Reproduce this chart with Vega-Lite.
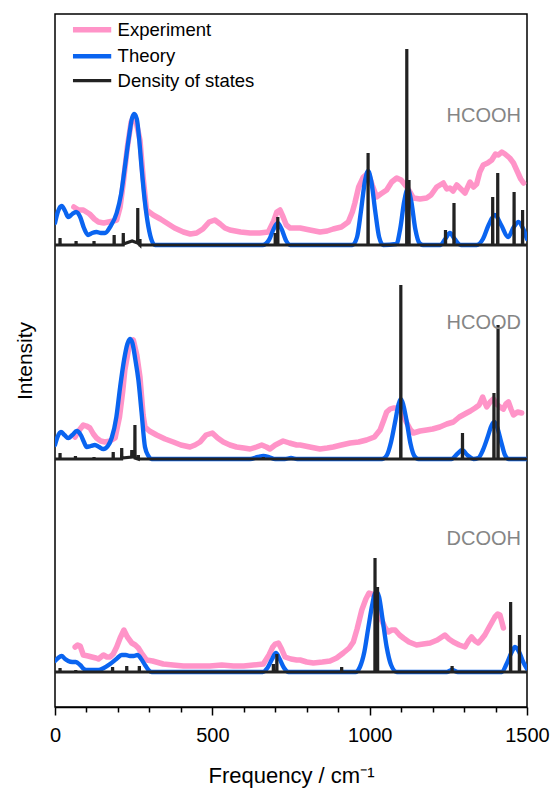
{
  "$schema": "https://vega.github.io/schema/vega-lite/v6.json",
  "autosize": {"type": "none"},
  "padding": {"left": 55, "top": 14, "right": 26, "bottom": 82},
  "width": 472,
  "height": 693,
  "config": {
    "font": "Liberation Sans",
    "view": {"stroke": "#000000", "strokeWidth": 1.5},
    "axis": {"labelFont": "Liberation Sans", "titleFont": "Liberation Sans", "titleFontWeight": "normal", "labelColor": "#000000", "titleColor": "#000000"}
  },
  "datasets": {
    "spec": [
      {"kind": "Experiment", "s": "HCOOH", "x": 60, "y": 500}, {"kind": "Experiment", "s": "HCOOH", "x": 75, "y": 497}, {"kind": "Experiment", "s": "HCOOH", "x": 90, "y": 497}, {"kind": "Experiment", "s": "HCOOH", "x": 110, "y": 493}, {"kind": "Experiment", "s": "HCOOH", "x": 125, "y": 488}, {"kind": "Experiment", "s": "HCOOH", "x": 138, "y": 485}, {"kind": "Experiment", "s": "HCOOH", "x": 155, "y": 484}, {"kind": "Experiment", "s": "HCOOH", "x": 170, "y": 485}, {"kind": "Experiment", "s": "HCOOH", "x": 185, "y": 486}, {"kind": "Experiment", "s": "HCOOH", "x": 196, "y": 487}, {"kind": "Experiment", "s": "HCOOH", "x": 207, "y": 500}, {"kind": "Experiment", "s": "HCOOH", "x": 217, "y": 524}, {"kind": "Experiment", "s": "HCOOH", "x": 230, "y": 560}, {"kind": "Experiment", "s": "HCOOH", "x": 242, "y": 585}, {"kind": "Experiment", "s": "HCOOH", "x": 249, "y": 590}, {"kind": "Experiment", "s": "HCOOH", "x": 258, "y": 585}, {"kind": "Experiment", "s": "HCOOH", "x": 270, "y": 567}, {"kind": "Experiment", "s": "HCOOH", "x": 280, "y": 530}, {"kind": "Experiment", "s": "HCOOH", "x": 291, "y": 497}, {"kind": "Experiment", "s": "HCOOH", "x": 312, "y": 492}, {"kind": "Experiment", "s": "HCOOH", "x": 335, "y": 488}, {"kind": "Experiment", "s": "HCOOH", "x": 355, "y": 484}, {"kind": "Experiment", "s": "HCOOH", "x": 380, "y": 479}, {"kind": "Experiment", "s": "HCOOH", "x": 408, "y": 475}, {"kind": "Experiment", "s": "HCOOH", "x": 430, "y": 473}, {"kind": "Experiment", "s": "HCOOH", "x": 450, "y": 474}, {"kind": "Experiment", "s": "HCOOH", "x": 470, "y": 478}, {"kind": "Experiment", "s": "HCOOH", "x": 490, "y": 485}, {"kind": "Experiment", "s": "HCOOH", "x": 508, "y": 487}, {"kind": "Experiment", "s": "HCOOH", "x": 525, "y": 483}, {"kind": "Experiment", "s": "HCOOH", "x": 540, "y": 479}, {"kind": "Experiment", "s": "HCOOH", "x": 556, "y": 477}, {"kind": "Experiment", "s": "HCOOH", "x": 590, "y": 475}, {"kind": "Experiment", "s": "HCOOH", "x": 620, "y": 474}, {"kind": "Experiment", "s": "HCOOH", "x": 650, "y": 474}, {"kind": "Experiment", "s": "HCOOH", "x": 678, "y": 475}, {"kind": "Experiment", "s": "HCOOH", "x": 695, "y": 486}, {"kind": "Experiment", "s": "HCOOH", "x": 705, "y": 495}, {"kind": "Experiment", "s": "HCOOH", "x": 715, "y": 497}, {"kind": "Experiment", "s": "HCOOH", "x": 725, "y": 490}, {"kind": "Experiment", "s": "HCOOH", "x": 735, "y": 482}, {"kind": "Experiment", "s": "HCOOH", "x": 747, "y": 479}, {"kind": "Experiment", "s": "HCOOH", "x": 779, "y": 479}, {"kind": "Experiment", "s": "HCOOH", "x": 810, "y": 477}, {"kind": "Experiment", "s": "HCOOH", "x": 842, "y": 475}, {"kind": "Experiment", "s": "HCOOH", "x": 865, "y": 476}, {"kind": "Experiment", "s": "HCOOH", "x": 884, "y": 478}, {"kind": "Experiment", "s": "HCOOH", "x": 910, "y": 480}, {"kind": "Experiment", "s": "HCOOH", "x": 932, "y": 485}, {"kind": "Experiment", "s": "HCOOH", "x": 945, "y": 495}, {"kind": "Experiment", "s": "HCOOH", "x": 953, "y": 504}, {"kind": "Experiment", "s": "HCOOH", "x": 965, "y": 520}, {"kind": "Experiment", "s": "HCOOH", "x": 980, "y": 530}, {"kind": "Experiment", "s": "HCOOH", "x": 995, "y": 534}, {"kind": "Experiment", "s": "HCOOH", "x": 1008, "y": 522}, {"kind": "Experiment", "s": "HCOOH", "x": 1022, "y": 510}, {"kind": "Experiment", "s": "HCOOH", "x": 1035, "y": 513}, {"kind": "Experiment", "s": "HCOOH", "x": 1054, "y": 517}, {"kind": "Experiment", "s": "HCOOH", "x": 1070, "y": 525}, {"kind": "Experiment", "s": "HCOOH", "x": 1086, "y": 529}, {"kind": "Experiment", "s": "HCOOH", "x": 1100, "y": 527}, {"kind": "Experiment", "s": "HCOOH", "x": 1118, "y": 520}, {"kind": "Experiment", "s": "HCOOH", "x": 1130, "y": 514}, {"kind": "Experiment", "s": "HCOOH", "x": 1139, "y": 509}, {"kind": "Experiment", "s": "HCOOH", "x": 1160, "y": 508}, {"kind": "Experiment", "s": "HCOOH", "x": 1181, "y": 509}, {"kind": "Experiment", "s": "HCOOH", "x": 1195, "y": 512}, {"kind": "Experiment", "s": "HCOOH", "x": 1213, "y": 520}, {"kind": "Experiment", "s": "HCOOH", "x": 1234, "y": 524}, {"kind": "Experiment", "s": "HCOOH", "x": 1245, "y": 518}, {"kind": "Experiment", "s": "HCOOH", "x": 1255, "y": 519}, {"kind": "Experiment", "s": "HCOOH", "x": 1265, "y": 516}, {"kind": "Experiment", "s": "HCOOH", "x": 1277, "y": 522}, {"kind": "Experiment", "s": "HCOOH", "x": 1290, "y": 518}, {"kind": "Experiment", "s": "HCOOH", "x": 1303, "y": 514}, {"kind": "Experiment", "s": "HCOOH", "x": 1319, "y": 525}, {"kind": "Experiment", "s": "HCOOH", "x": 1330, "y": 520}, {"kind": "Experiment", "s": "HCOOH", "x": 1340, "y": 523}, {"kind": "Experiment", "s": "HCOOH", "x": 1350, "y": 535}, {"kind": "Experiment", "s": "HCOOH", "x": 1361, "y": 542}, {"kind": "Experiment", "s": "HCOOH", "x": 1375, "y": 544}, {"kind": "Experiment", "s": "HCOOH", "x": 1388, "y": 547}, {"kind": "Experiment", "s": "HCOOH", "x": 1400, "y": 553}, {"kind": "Experiment", "s": "HCOOH", "x": 1409, "y": 552}, {"kind": "Experiment", "s": "HCOOH", "x": 1420, "y": 555}, {"kind": "Experiment", "s": "HCOOH", "x": 1430, "y": 553}, {"kind": "Experiment", "s": "HCOOH", "x": 1445, "y": 549}, {"kind": "Experiment", "s": "HCOOH", "x": 1457, "y": 544}, {"kind": "Experiment", "s": "HCOOH", "x": 1470, "y": 535}, {"kind": "Experiment", "s": "HCOOH", "x": 1480, "y": 528}, {"kind": "Experiment", "s": "HCOOH", "x": 1489, "y": 524},

      {"kind": "Theory", "s": "HCOOH", "x": 0, "y": 484}, {"kind": "Theory", "s": "HCOOH", "x": 10, "y": 496}, {"kind": "Theory", "s": "HCOOH", "x": 21, "y": 501}, {"kind": "Theory", "s": "HCOOH", "x": 32, "y": 496}, {"kind": "Theory", "s": "HCOOH", "x": 42, "y": 490}, {"kind": "Theory", "s": "HCOOH", "x": 55, "y": 493}, {"kind": "Theory", "s": "HCOOH", "x": 67, "y": 495}, {"kind": "Theory", "s": "HCOOH", "x": 80, "y": 490}, {"kind": "Theory", "s": "HCOOH", "x": 92, "y": 479}, {"kind": "Theory", "s": "HCOOH", "x": 105, "y": 472}, {"kind": "Theory", "s": "HCOOH", "x": 118, "y": 474}, {"kind": "Theory", "s": "HCOOH", "x": 132, "y": 475}, {"kind": "Theory", "s": "HCOOH", "x": 146, "y": 474}, {"kind": "Theory", "s": "HCOOH", "x": 159, "y": 474}, {"kind": "Theory", "s": "HCOOH", "x": 175, "y": 480}, {"kind": "Theory", "s": "HCOOH", "x": 196, "y": 494}, {"kind": "Theory", "s": "HCOOH", "x": 210, "y": 513}, {"kind": "Theory", "s": "HCOOH", "x": 222, "y": 540}, {"kind": "Theory", "s": "HCOOH", "x": 235, "y": 570}, {"kind": "Theory", "s": "HCOOH", "x": 245, "y": 589}, {"kind": "Theory", "s": "HCOOH", "x": 252, "y": 593}, {"kind": "Theory", "s": "HCOOH", "x": 260, "y": 588}, {"kind": "Theory", "s": "HCOOH", "x": 268, "y": 566}, {"kind": "Theory", "s": "HCOOH", "x": 275, "y": 540}, {"kind": "Theory", "s": "HCOOH", "x": 285, "y": 507}, {"kind": "Theory", "s": "HCOOH", "x": 297, "y": 480}, {"kind": "Theory", "s": "HCOOH", "x": 308, "y": 466}, {"kind": "Theory", "s": "HCOOH", "x": 318, "y": 462}, {"kind": "Theory", "s": "HCOOH", "x": 660, "y": 462}, {"kind": "Theory", "s": "HCOOH", "x": 680, "y": 467}, {"kind": "Theory", "s": "HCOOH", "x": 695, "y": 478}, {"kind": "Theory", "s": "HCOOH", "x": 708, "y": 484}, {"kind": "Theory", "s": "HCOOH", "x": 720, "y": 478}, {"kind": "Theory", "s": "HCOOH", "x": 735, "y": 466}, {"kind": "Theory", "s": "HCOOH", "x": 747, "y": 462}, {"kind": "Theory", "s": "HCOOH", "x": 945, "y": 462}, {"kind": "Theory", "s": "HCOOH", "x": 960, "y": 470}, {"kind": "Theory", "s": "HCOOH", "x": 972, "y": 495}, {"kind": "Theory", "s": "HCOOH", "x": 985, "y": 526}, {"kind": "Theory", "s": "HCOOH", "x": 995, "y": 536}, {"kind": "Theory", "s": "HCOOH", "x": 1005, "y": 526}, {"kind": "Theory", "s": "HCOOH", "x": 1018, "y": 495}, {"kind": "Theory", "s": "HCOOH", "x": 1030, "y": 470}, {"kind": "Theory", "s": "HCOOH", "x": 1043, "y": 462}, {"kind": "Theory", "s": "HCOOH", "x": 1085, "y": 463}, {"kind": "Theory", "s": "HCOOH", "x": 1097, "y": 478}, {"kind": "Theory", "s": "HCOOH", "x": 1110, "y": 506}, {"kind": "Theory", "s": "HCOOH", "x": 1121, "y": 518}, {"kind": "Theory", "s": "HCOOH", "x": 1132, "y": 506}, {"kind": "Theory", "s": "HCOOH", "x": 1145, "y": 478}, {"kind": "Theory", "s": "HCOOH", "x": 1158, "y": 464}, {"kind": "Theory", "s": "HCOOH", "x": 1170, "y": 462}, {"kind": "Theory", "s": "HCOOH", "x": 1225, "y": 462}, {"kind": "Theory", "s": "HCOOH", "x": 1240, "y": 468}, {"kind": "Theory", "s": "HCOOH", "x": 1255, "y": 474}, {"kind": "Theory", "s": "HCOOH", "x": 1270, "y": 468}, {"kind": "Theory", "s": "HCOOH", "x": 1290, "y": 462}, {"kind": "Theory", "s": "HCOOH", "x": 1340, "y": 462}, {"kind": "Theory", "s": "HCOOH", "x": 1360, "y": 468}, {"kind": "Theory", "s": "HCOOH", "x": 1378, "y": 482}, {"kind": "Theory", "s": "HCOOH", "x": 1398, "y": 492}, {"kind": "Theory", "s": "HCOOH", "x": 1418, "y": 482}, {"kind": "Theory", "s": "HCOOH", "x": 1440, "y": 470}, {"kind": "Theory", "s": "HCOOH", "x": 1458, "y": 480}, {"kind": "Theory", "s": "HCOOH", "x": 1473, "y": 485}, {"kind": "Theory", "s": "HCOOH", "x": 1488, "y": 478}, {"kind": "Theory", "s": "HCOOH", "x": 1500, "y": 468},

      {"kind": "Experiment", "s": "HCOOD", "x": 64, "y": 270}, {"kind": "Experiment", "s": "HCOOD", "x": 75, "y": 276}, {"kind": "Experiment", "s": "HCOOD", "x": 90, "y": 282}, {"kind": "Experiment", "s": "HCOOD", "x": 100, "y": 281}, {"kind": "Experiment", "s": "HCOOD", "x": 111, "y": 279}, {"kind": "Experiment", "s": "HCOOD", "x": 122, "y": 273}, {"kind": "Experiment", "s": "HCOOD", "x": 132, "y": 269}, {"kind": "Experiment", "s": "HCOOD", "x": 145, "y": 266}, {"kind": "Experiment", "s": "HCOOD", "x": 159, "y": 265}, {"kind": "Experiment", "s": "HCOOD", "x": 175, "y": 266}, {"kind": "Experiment", "s": "HCOOD", "x": 191, "y": 269}, {"kind": "Experiment", "s": "HCOOD", "x": 205, "y": 290}, {"kind": "Experiment", "s": "HCOOD", "x": 215, "y": 315}, {"kind": "Experiment", "s": "HCOOD", "x": 222, "y": 337}, {"kind": "Experiment", "s": "HCOOD", "x": 235, "y": 360}, {"kind": "Experiment", "s": "HCOOD", "x": 249, "y": 367}, {"kind": "Experiment", "s": "HCOOD", "x": 260, "y": 352}, {"kind": "Experiment", "s": "HCOOD", "x": 270, "y": 330}, {"kind": "Experiment", "s": "HCOOD", "x": 280, "y": 292}, {"kind": "Experiment", "s": "HCOOD", "x": 286, "y": 280}, {"kind": "Experiment", "s": "HCOOD", "x": 300, "y": 276}, {"kind": "Experiment", "s": "HCOOD", "x": 323, "y": 272}, {"kind": "Experiment", "s": "HCOOD", "x": 350, "y": 268}, {"kind": "Experiment", "s": "HCOOD", "x": 376, "y": 265}, {"kind": "Experiment", "s": "HCOOD", "x": 400, "y": 262}, {"kind": "Experiment", "s": "HCOOD", "x": 429, "y": 260}, {"kind": "Experiment", "s": "HCOOD", "x": 445, "y": 262}, {"kind": "Experiment", "s": "HCOOD", "x": 461, "y": 265}, {"kind": "Experiment", "s": "HCOOD", "x": 480, "y": 272}, {"kind": "Experiment", "s": "HCOOD", "x": 500, "y": 274}, {"kind": "Experiment", "s": "HCOOD", "x": 517, "y": 269}, {"kind": "Experiment", "s": "HCOOD", "x": 535, "y": 265}, {"kind": "Experiment", "s": "HCOOD", "x": 556, "y": 262}, {"kind": "Experiment", "s": "HCOOD", "x": 577, "y": 260}, {"kind": "Experiment", "s": "HCOOD", "x": 600, "y": 259}, {"kind": "Experiment", "s": "HCOOD", "x": 620, "y": 258}, {"kind": "Experiment", "s": "HCOOD", "x": 640, "y": 260}, {"kind": "Experiment", "s": "HCOOD", "x": 657, "y": 262}, {"kind": "Experiment", "s": "HCOOD", "x": 672, "y": 260}, {"kind": "Experiment", "s": "HCOOD", "x": 683, "y": 258}, {"kind": "Experiment", "s": "HCOOD", "x": 700, "y": 262}, {"kind": "Experiment", "s": "HCOOD", "x": 725, "y": 266}, {"kind": "Experiment", "s": "HCOOD", "x": 745, "y": 264}, {"kind": "Experiment", "s": "HCOOD", "x": 768, "y": 262}, {"kind": "Experiment", "s": "HCOOD", "x": 779, "y": 262}, {"kind": "Experiment", "s": "HCOOD", "x": 810, "y": 260}, {"kind": "Experiment", "s": "HCOOD", "x": 842, "y": 258}, {"kind": "Experiment", "s": "HCOOD", "x": 865, "y": 259}, {"kind": "Experiment", "s": "HCOOD", "x": 884, "y": 260}, {"kind": "Experiment", "s": "HCOOD", "x": 910, "y": 262}, {"kind": "Experiment", "s": "HCOOD", "x": 938, "y": 264}, {"kind": "Experiment", "s": "HCOOD", "x": 965, "y": 265}, {"kind": "Experiment", "s": "HCOOD", "x": 990, "y": 267}, {"kind": "Experiment", "s": "HCOOD", "x": 1015, "y": 270}, {"kind": "Experiment", "s": "HCOOD", "x": 1033, "y": 277}, {"kind": "Experiment", "s": "HCOOD", "x": 1045, "y": 287}, {"kind": "Experiment", "s": "HCOOD", "x": 1054, "y": 295}, {"kind": "Experiment", "s": "HCOOD", "x": 1065, "y": 298}, {"kind": "Experiment", "s": "HCOOD", "x": 1075, "y": 299}, {"kind": "Experiment", "s": "HCOOD", "x": 1086, "y": 299}, {"kind": "Experiment", "s": "HCOOD", "x": 1096, "y": 297}, {"kind": "Experiment", "s": "HCOOD", "x": 1108, "y": 291}, {"kind": "Experiment", "s": "HCOOD", "x": 1118, "y": 284}, {"kind": "Experiment", "s": "HCOOD", "x": 1130, "y": 277}, {"kind": "Experiment", "s": "HCOOD", "x": 1139, "y": 274}, {"kind": "Experiment", "s": "HCOOD", "x": 1160, "y": 276}, {"kind": "Experiment", "s": "HCOOD", "x": 1181, "y": 277}, {"kind": "Experiment", "s": "HCOOD", "x": 1200, "y": 278}, {"kind": "Experiment", "s": "HCOOD", "x": 1223, "y": 280}, {"kind": "Experiment", "s": "HCOOD", "x": 1245, "y": 283}, {"kind": "Experiment", "s": "HCOOD", "x": 1266, "y": 285}, {"kind": "Experiment", "s": "HCOOD", "x": 1285, "y": 290}, {"kind": "Experiment", "s": "HCOOD", "x": 1308, "y": 294}, {"kind": "Experiment", "s": "HCOOD", "x": 1320, "y": 296}, {"kind": "Experiment", "s": "HCOOD", "x": 1335, "y": 299}, {"kind": "Experiment", "s": "HCOOD", "x": 1348, "y": 302}, {"kind": "Experiment", "s": "HCOOD", "x": 1359, "y": 310}, {"kind": "Experiment", "s": "HCOOD", "x": 1365, "y": 305}, {"kind": "Experiment", "s": "HCOOD", "x": 1372, "y": 300}, {"kind": "Experiment", "s": "HCOOD", "x": 1383, "y": 305}, {"kind": "Experiment", "s": "HCOOD", "x": 1393, "y": 308}, {"kind": "Experiment", "s": "HCOOD", "x": 1403, "y": 303}, {"kind": "Experiment", "s": "HCOOD", "x": 1414, "y": 300}, {"kind": "Experiment", "s": "HCOOD", "x": 1425, "y": 298}, {"kind": "Experiment", "s": "HCOOD", "x": 1433, "y": 303}, {"kind": "Experiment", "s": "HCOOD", "x": 1441, "y": 305}, {"kind": "Experiment", "s": "HCOOD", "x": 1449, "y": 298}, {"kind": "Experiment", "s": "HCOOD", "x": 1457, "y": 292}, {"kind": "Experiment", "s": "HCOOD", "x": 1470, "y": 295}, {"kind": "Experiment", "s": "HCOOD", "x": 1483, "y": 294},

      {"kind": "Theory", "s": "HCOOD", "x": 0, "y": 262}, {"kind": "Theory", "s": "HCOOD", "x": 8, "y": 270}, {"kind": "Theory", "s": "HCOOD", "x": 19, "y": 275}, {"kind": "Theory", "s": "HCOOD", "x": 30, "y": 272}, {"kind": "Theory", "s": "HCOOD", "x": 42, "y": 269}, {"kind": "Theory", "s": "HCOOD", "x": 55, "y": 272}, {"kind": "Theory", "s": "HCOOD", "x": 69, "y": 276}, {"kind": "Theory", "s": "HCOOD", "x": 82, "y": 272}, {"kind": "Theory", "s": "HCOOD", "x": 92, "y": 265}, {"kind": "Theory", "s": "HCOOD", "x": 101, "y": 260}, {"kind": "Theory", "s": "HCOOD", "x": 114, "y": 261}, {"kind": "Theory", "s": "HCOOD", "x": 127, "y": 262}, {"kind": "Theory", "s": "HCOOD", "x": 140, "y": 260}, {"kind": "Theory", "s": "HCOOD", "x": 154, "y": 258}, {"kind": "Theory", "s": "HCOOD", "x": 168, "y": 261}, {"kind": "Theory", "s": "HCOOD", "x": 180, "y": 269}, {"kind": "Theory", "s": "HCOOD", "x": 195, "y": 290}, {"kind": "Theory", "s": "HCOOD", "x": 207, "y": 320}, {"kind": "Theory", "s": "HCOOD", "x": 220, "y": 348}, {"kind": "Theory", "s": "HCOOD", "x": 230, "y": 363}, {"kind": "Theory", "s": "HCOOD", "x": 238, "y": 368}, {"kind": "Theory", "s": "HCOOD", "x": 246, "y": 364}, {"kind": "Theory", "s": "HCOOD", "x": 255, "y": 348}, {"kind": "Theory", "s": "HCOOD", "x": 265, "y": 327}, {"kind": "Theory", "s": "HCOOD", "x": 275, "y": 295}, {"kind": "Theory", "s": "HCOOD", "x": 286, "y": 260}, {"kind": "Theory", "s": "HCOOD", "x": 297, "y": 251}, {"kind": "Theory", "s": "HCOOD", "x": 307, "y": 248}, {"kind": "Theory", "s": "HCOOD", "x": 620, "y": 248}, {"kind": "Theory", "s": "HCOOD", "x": 645, "y": 250}, {"kind": "Theory", "s": "HCOOD", "x": 662, "y": 251}, {"kind": "Theory", "s": "HCOOD", "x": 680, "y": 250}, {"kind": "Theory", "s": "HCOOD", "x": 700, "y": 248}, {"kind": "Theory", "s": "HCOOD", "x": 730, "y": 248}, {"kind": "Theory", "s": "HCOOD", "x": 750, "y": 249}, {"kind": "Theory", "s": "HCOOD", "x": 770, "y": 248}, {"kind": "Theory", "s": "HCOOD", "x": 1040, "y": 248}, {"kind": "Theory", "s": "HCOOD", "x": 1055, "y": 252}, {"kind": "Theory", "s": "HCOOD", "x": 1068, "y": 265}, {"kind": "Theory", "s": "HCOOD", "x": 1082, "y": 287}, {"kind": "Theory", "s": "HCOOD", "x": 1092, "y": 303}, {"kind": "Theory", "s": "HCOOD", "x": 1099, "y": 308}, {"kind": "Theory", "s": "HCOOD", "x": 1107, "y": 302}, {"kind": "Theory", "s": "HCOOD", "x": 1118, "y": 285}, {"kind": "Theory", "s": "HCOOD", "x": 1130, "y": 263}, {"kind": "Theory", "s": "HCOOD", "x": 1142, "y": 251}, {"kind": "Theory", "s": "HCOOD", "x": 1155, "y": 248}, {"kind": "Theory", "s": "HCOOD", "x": 1260, "y": 248}, {"kind": "Theory", "s": "HCOOD", "x": 1278, "y": 253}, {"kind": "Theory", "s": "HCOOD", "x": 1294, "y": 257}, {"kind": "Theory", "s": "HCOOD", "x": 1310, "y": 252}, {"kind": "Theory", "s": "HCOOD", "x": 1330, "y": 248}, {"kind": "Theory", "s": "HCOOD", "x": 1345, "y": 249}, {"kind": "Theory", "s": "HCOOD", "x": 1360, "y": 257}, {"kind": "Theory", "s": "HCOOD", "x": 1375, "y": 270}, {"kind": "Theory", "s": "HCOOD", "x": 1388, "y": 282}, {"kind": "Theory", "s": "HCOOD", "x": 1396, "y": 285}, {"kind": "Theory", "s": "HCOOD", "x": 1405, "y": 280}, {"kind": "Theory", "s": "HCOOD", "x": 1418, "y": 265}, {"kind": "Theory", "s": "HCOOD", "x": 1430, "y": 252}, {"kind": "Theory", "s": "HCOOD", "x": 1442, "y": 248}, {"kind": "Theory", "s": "HCOOD", "x": 1500, "y": 248},

      {"kind": "Experiment", "s": "DCOOH", "x": 64, "y": 60}, {"kind": "Experiment", "s": "DCOOH", "x": 72, "y": 62}, {"kind": "Experiment", "s": "DCOOH", "x": 80, "y": 61}, {"kind": "Experiment", "s": "DCOOH", "x": 90, "y": 52}, {"kind": "Experiment", "s": "DCOOH", "x": 105, "y": 51}, {"kind": "Experiment", "s": "DCOOH", "x": 117, "y": 50}, {"kind": "Experiment", "s": "DCOOH", "x": 130, "y": 49}, {"kind": "Experiment", "s": "DCOOH", "x": 138, "y": 48}, {"kind": "Experiment", "s": "DCOOH", "x": 154, "y": 52}, {"kind": "Experiment", "s": "DCOOH", "x": 165, "y": 50}, {"kind": "Experiment", "s": "DCOOH", "x": 175, "y": 50}, {"kind": "Experiment", "s": "DCOOH", "x": 185, "y": 53}, {"kind": "Experiment", "s": "DCOOH", "x": 196, "y": 60}, {"kind": "Experiment", "s": "DCOOH", "x": 207, "y": 69}, {"kind": "Experiment", "s": "DCOOH", "x": 219, "y": 77}, {"kind": "Experiment", "s": "DCOOH", "x": 230, "y": 70}, {"kind": "Experiment", "s": "DCOOH", "x": 244, "y": 64}, {"kind": "Experiment", "s": "DCOOH", "x": 255, "y": 62}, {"kind": "Experiment", "s": "DCOOH", "x": 265, "y": 59}, {"kind": "Experiment", "s": "DCOOH", "x": 275, "y": 54}, {"kind": "Experiment", "s": "DCOOH", "x": 291, "y": 47}, {"kind": "Experiment", "s": "DCOOH", "x": 310, "y": 46}, {"kind": "Experiment", "s": "DCOOH", "x": 344, "y": 43}, {"kind": "Experiment", "s": "DCOOH", "x": 375, "y": 42}, {"kind": "Experiment", "s": "DCOOH", "x": 408, "y": 41}, {"kind": "Experiment", "s": "DCOOH", "x": 450, "y": 41}, {"kind": "Experiment", "s": "DCOOH", "x": 492, "y": 41}, {"kind": "Experiment", "s": "DCOOH", "x": 530, "y": 42}, {"kind": "Experiment", "s": "DCOOH", "x": 567, "y": 41}, {"kind": "Experiment", "s": "DCOOH", "x": 600, "y": 41}, {"kind": "Experiment", "s": "DCOOH", "x": 630, "y": 42}, {"kind": "Experiment", "s": "DCOOH", "x": 662, "y": 43}, {"kind": "Experiment", "s": "DCOOH", "x": 680, "y": 52}, {"kind": "Experiment", "s": "DCOOH", "x": 692, "y": 60}, {"kind": "Experiment", "s": "DCOOH", "x": 700, "y": 63}, {"kind": "Experiment", "s": "DCOOH", "x": 710, "y": 64}, {"kind": "Experiment", "s": "DCOOH", "x": 720, "y": 58}, {"kind": "Experiment", "s": "DCOOH", "x": 731, "y": 50}, {"kind": "Experiment", "s": "DCOOH", "x": 750, "y": 48}, {"kind": "Experiment", "s": "DCOOH", "x": 768, "y": 47}, {"kind": "Experiment", "s": "DCOOH", "x": 779, "y": 47}, {"kind": "Experiment", "s": "DCOOH", "x": 800, "y": 45}, {"kind": "Experiment", "s": "DCOOH", "x": 821, "y": 44}, {"kind": "Experiment", "s": "DCOOH", "x": 850, "y": 45}, {"kind": "Experiment", "s": "DCOOH", "x": 874, "y": 46}, {"kind": "Experiment", "s": "DCOOH", "x": 895, "y": 49}, {"kind": "Experiment", "s": "DCOOH", "x": 916, "y": 54}, {"kind": "Experiment", "s": "DCOOH", "x": 935, "y": 59}, {"kind": "Experiment", "s": "DCOOH", "x": 948, "y": 65}, {"kind": "Experiment", "s": "DCOOH", "x": 960, "y": 78}, {"kind": "Experiment", "s": "DCOOH", "x": 975, "y": 97}, {"kind": "Experiment", "s": "DCOOH", "x": 988, "y": 108}, {"kind": "Experiment", "s": "DCOOH", "x": 998, "y": 114}, {"kind": "Experiment", "s": "DCOOH", "x": 1008, "y": 113}, {"kind": "Experiment", "s": "DCOOH", "x": 1017, "y": 110}, {"kind": "Experiment", "s": "DCOOH", "x": 1028, "y": 100}, {"kind": "Experiment", "s": "DCOOH", "x": 1038, "y": 87}, {"kind": "Experiment", "s": "DCOOH", "x": 1048, "y": 80}, {"kind": "Experiment", "s": "DCOOH", "x": 1059, "y": 75}, {"kind": "Experiment", "s": "DCOOH", "x": 1070, "y": 77}, {"kind": "Experiment", "s": "DCOOH", "x": 1081, "y": 77}, {"kind": "Experiment", "s": "DCOOH", "x": 1095, "y": 72}, {"kind": "Experiment", "s": "DCOOH", "x": 1107, "y": 69}, {"kind": "Experiment", "s": "DCOOH", "x": 1125, "y": 65}, {"kind": "Experiment", "s": "DCOOH", "x": 1149, "y": 62}, {"kind": "Experiment", "s": "DCOOH", "x": 1170, "y": 63}, {"kind": "Experiment", "s": "DCOOH", "x": 1192, "y": 64}, {"kind": "Experiment", "s": "DCOOH", "x": 1215, "y": 67}, {"kind": "Experiment", "s": "DCOOH", "x": 1239, "y": 72}, {"kind": "Experiment", "s": "DCOOH", "x": 1252, "y": 68}, {"kind": "Experiment", "s": "DCOOH", "x": 1266, "y": 65}, {"kind": "Experiment", "s": "DCOOH", "x": 1285, "y": 62}, {"kind": "Experiment", "s": "DCOOH", "x": 1303, "y": 60}, {"kind": "Experiment", "s": "DCOOH", "x": 1314, "y": 66}, {"kind": "Experiment", "s": "DCOOH", "x": 1324, "y": 70}, {"kind": "Experiment", "s": "DCOOH", "x": 1335, "y": 66}, {"kind": "Experiment", "s": "DCOOH", "x": 1345, "y": 64}, {"kind": "Experiment", "s": "DCOOH", "x": 1356, "y": 68}, {"kind": "Experiment", "s": "DCOOH", "x": 1366, "y": 72}, {"kind": "Experiment", "s": "DCOOH", "x": 1380, "y": 80}, {"kind": "Experiment", "s": "DCOOH", "x": 1398, "y": 90}, {"kind": "Experiment", "s": "DCOOH", "x": 1407, "y": 93}, {"kind": "Experiment", "s": "DCOOH", "x": 1414, "y": 92}, {"kind": "Experiment", "s": "DCOOH", "x": 1420, "y": 85}, {"kind": "Experiment", "s": "DCOOH", "x": 1425, "y": 79},

      {"kind": "Theory", "s": "DCOOH", "x": 0, "y": 46}, {"kind": "Theory", "s": "DCOOH", "x": 10, "y": 49}, {"kind": "Theory", "s": "DCOOH", "x": 21, "y": 51}, {"kind": "Theory", "s": "DCOOH", "x": 32, "y": 48}, {"kind": "Theory", "s": "DCOOH", "x": 42, "y": 46}, {"kind": "Theory", "s": "DCOOH", "x": 55, "y": 45}, {"kind": "Theory", "s": "DCOOH", "x": 66, "y": 45}, {"kind": "Theory", "s": "DCOOH", "x": 80, "y": 42}, {"kind": "Theory", "s": "DCOOH", "x": 92, "y": 38}, {"kind": "Theory", "s": "DCOOH", "x": 101, "y": 37}, {"kind": "Theory", "s": "DCOOH", "x": 120, "y": 37}, {"kind": "Theory", "s": "DCOOH", "x": 138, "y": 37}, {"kind": "Theory", "s": "DCOOH", "x": 155, "y": 39}, {"kind": "Theory", "s": "DCOOH", "x": 175, "y": 43}, {"kind": "Theory", "s": "DCOOH", "x": 195, "y": 48}, {"kind": "Theory", "s": "DCOOH", "x": 212, "y": 52}, {"kind": "Theory", "s": "DCOOH", "x": 225, "y": 52}, {"kind": "Theory", "s": "DCOOH", "x": 238, "y": 51}, {"kind": "Theory", "s": "DCOOH", "x": 250, "y": 51}, {"kind": "Theory", "s": "DCOOH", "x": 262, "y": 52}, {"kind": "Theory", "s": "DCOOH", "x": 274, "y": 48}, {"kind": "Theory", "s": "DCOOH", "x": 286, "y": 42}, {"kind": "Theory", "s": "DCOOH", "x": 297, "y": 37}, {"kind": "Theory", "s": "DCOOH", "x": 307, "y": 35}, {"kind": "Theory", "s": "DCOOH", "x": 660, "y": 35}, {"kind": "Theory", "s": "DCOOH", "x": 675, "y": 39}, {"kind": "Theory", "s": "DCOOH", "x": 690, "y": 48}, {"kind": "Theory", "s": "DCOOH", "x": 702, "y": 54}, {"kind": "Theory", "s": "DCOOH", "x": 714, "y": 48}, {"kind": "Theory", "s": "DCOOH", "x": 728, "y": 39}, {"kind": "Theory", "s": "DCOOH", "x": 742, "y": 35}, {"kind": "Theory", "s": "DCOOH", "x": 955, "y": 35}, {"kind": "Theory", "s": "DCOOH", "x": 969, "y": 40}, {"kind": "Theory", "s": "DCOOH", "x": 983, "y": 55}, {"kind": "Theory", "s": "DCOOH", "x": 995, "y": 78}, {"kind": "Theory", "s": "DCOOH", "x": 1008, "y": 102}, {"kind": "Theory", "s": "DCOOH", "x": 1016, "y": 113}, {"kind": "Theory", "s": "DCOOH", "x": 1022, "y": 115}, {"kind": "Theory", "s": "DCOOH", "x": 1030, "y": 110}, {"kind": "Theory", "s": "DCOOH", "x": 1040, "y": 90}, {"kind": "Theory", "s": "DCOOH", "x": 1054, "y": 60}, {"kind": "Theory", "s": "DCOOH", "x": 1068, "y": 42}, {"kind": "Theory", "s": "DCOOH", "x": 1086, "y": 35}, {"kind": "Theory", "s": "DCOOH", "x": 1245, "y": 35}, {"kind": "Theory", "s": "DCOOH", "x": 1262, "y": 37}, {"kind": "Theory", "s": "DCOOH", "x": 1280, "y": 35}, {"kind": "Theory", "s": "DCOOH", "x": 1420, "y": 35}, {"kind": "Theory", "s": "DCOOH", "x": 1435, "y": 43}, {"kind": "Theory", "s": "DCOOH", "x": 1450, "y": 54}, {"kind": "Theory", "s": "DCOOH", "x": 1462, "y": 60}, {"kind": "Theory", "s": "DCOOH", "x": 1475, "y": 55}, {"kind": "Theory", "s": "DCOOH", "x": 1488, "y": 45}, {"kind": "Theory", "s": "DCOOH", "x": 1500, "y": 38},

      {"kind": "Density of states", "s": "HCOOH", "x": 0, "y": 462}, {"kind": "Density of states", "s": "HCOOH", "x": 15.6, "y": 462}, {"kind": "Density of states", "s": "HCOOH", "x": 16, "y": 469}, {"kind": "Density of states", "s": "HCOOH", "x": 16.4, "y": 462}, {"kind": "Density of states", "s": "HCOOH", "x": 66.6, "y": 462}, {"kind": "Density of states", "s": "HCOOH", "x": 67, "y": 466}, {"kind": "Density of states", "s": "HCOOH", "x": 67.4, "y": 462}, {"kind": "Density of states", "s": "HCOOH", "x": 123.6, "y": 462}, {"kind": "Density of states", "s": "HCOOH", "x": 124, "y": 466}, {"kind": "Density of states", "s": "HCOOH", "x": 124.4, "y": 462}, {"kind": "Density of states", "s": "HCOOH", "x": 187.6, "y": 462}, {"kind": "Density of states", "s": "HCOOH", "x": 188, "y": 472}, {"kind": "Density of states", "s": "HCOOH", "x": 188.4, "y": 462}, {"kind": "Density of states", "s": "HCOOH", "x": 216.6, "y": 462}, {"kind": "Density of states", "s": "HCOOH", "x": 217, "y": 474}, {"kind": "Density of states", "s": "HCOOH", "x": 217.4, "y": 463}, {"kind": "Density of states", "s": "HCOOH", "x": 245, "y": 466}, {"kind": "Density of states", "s": "HCOOH", "x": 262.6, "y": 464}, {"kind": "Density of states", "s": "HCOOH", "x": 263, "y": 499}, {"kind": "Density of states", "s": "HCOOH", "x": 263.4, "y": 464}, {"kind": "Density of states", "s": "HCOOH", "x": 269.6, "y": 462}, {"kind": "Density of states", "s": "HCOOH", "x": 270, "y": 468}, {"kind": "Density of states", "s": "HCOOH", "x": 270.4, "y": 462}, {"kind": "Density of states", "s": "HCOOH", "x": 699.6, "y": 462}, {"kind": "Density of states", "s": "HCOOH", "x": 700, "y": 474}, {"kind": "Density of states", "s": "HCOOH", "x": 700.4, "y": 462}, {"kind": "Density of states", "s": "HCOOH", "x": 707.6, "y": 462}, {"kind": "Density of states", "s": "HCOOH", "x": 708, "y": 490}, {"kind": "Density of states", "s": "HCOOH", "x": 708.4, "y": 462}, {"kind": "Density of states", "s": "HCOOH", "x": 994.6, "y": 462}, {"kind": "Density of states", "s": "HCOOH", "x": 995, "y": 554}, {"kind": "Density of states", "s": "HCOOH", "x": 995.4, "y": 462}, {"kind": "Density of states", "s": "HCOOH", "x": 1117.6, "y": 462}, {"kind": "Density of states", "s": "HCOOH", "x": 1118, "y": 658}, {"kind": "Density of states", "s": "HCOOH", "x": 1118.4, "y": 462}, {"kind": "Density of states", "s": "HCOOH", "x": 1124.6, "y": 462}, {"kind": "Density of states", "s": "HCOOH", "x": 1125, "y": 527}, {"kind": "Density of states", "s": "HCOOH", "x": 1125.4, "y": 462}, {"kind": "Density of states", "s": "HCOOH", "x": 1240.6, "y": 462}, {"kind": "Density of states", "s": "HCOOH", "x": 1241, "y": 477}, {"kind": "Density of states", "s": "HCOOH", "x": 1241.4, "y": 462}, {"kind": "Density of states", "s": "HCOOH", "x": 1267.6, "y": 462}, {"kind": "Density of states", "s": "HCOOH", "x": 1268, "y": 504}, {"kind": "Density of states", "s": "HCOOH", "x": 1268.4, "y": 462}, {"kind": "Density of states", "s": "HCOOH", "x": 1390.6, "y": 462}, {"kind": "Density of states", "s": "HCOOH", "x": 1391, "y": 510}, {"kind": "Density of states", "s": "HCOOH", "x": 1391.4, "y": 462}, {"kind": "Density of states", "s": "HCOOH", "x": 1406.6, "y": 462}, {"kind": "Density of states", "s": "HCOOH", "x": 1407, "y": 534}, {"kind": "Density of states", "s": "HCOOH", "x": 1407.4, "y": 462}, {"kind": "Density of states", "s": "HCOOH", "x": 1458.6, "y": 462}, {"kind": "Density of states", "s": "HCOOH", "x": 1459, "y": 515}, {"kind": "Density of states", "s": "HCOOH", "x": 1459.4, "y": 462}, {"kind": "Density of states", "s": "HCOOH", "x": 1485.6, "y": 462}, {"kind": "Density of states", "s": "HCOOH", "x": 1486, "y": 497}, {"kind": "Density of states", "s": "HCOOH", "x": 1486.4, "y": 462}, {"kind": "Density of states", "s": "HCOOH", "x": 1500, "y": 462},

      {"kind": "Density of states", "s": "HCOOD", "x": 0, "y": 248}, {"kind": "Density of states", "s": "HCOOD", "x": 15.6, "y": 248}, {"kind": "Density of states", "s": "HCOOD", "x": 16, "y": 254}, {"kind": "Density of states", "s": "HCOOD", "x": 16.4, "y": 248}, {"kind": "Density of states", "s": "HCOOD", "x": 64.6, "y": 248}, {"kind": "Density of states", "s": "HCOOD", "x": 65, "y": 251}, {"kind": "Density of states", "s": "HCOOD", "x": 65.4, "y": 248}, {"kind": "Density of states", "s": "HCOOD", "x": 123.6, "y": 248}, {"kind": "Density of states", "s": "HCOOD", "x": 124, "y": 250}, {"kind": "Density of states", "s": "HCOOD", "x": 124.4, "y": 248}, {"kind": "Density of states", "s": "HCOOD", "x": 184.6, "y": 248}, {"kind": "Density of states", "s": "HCOOD", "x": 185, "y": 255}, {"kind": "Density of states", "s": "HCOOD", "x": 185.4, "y": 248}, {"kind": "Density of states", "s": "HCOOD", "x": 211.6, "y": 248}, {"kind": "Density of states", "s": "HCOOD", "x": 212, "y": 259}, {"kind": "Density of states", "s": "HCOOD", "x": 212.4, "y": 249}, {"kind": "Density of states", "s": "HCOOD", "x": 243.6, "y": 250}, {"kind": "Density of states", "s": "HCOOD", "x": 244, "y": 257}, {"kind": "Density of states", "s": "HCOOD", "x": 244.4, "y": 250}, {"kind": "Density of states", "s": "HCOOD", "x": 253.6, "y": 250}, {"kind": "Density of states", "s": "HCOOD", "x": 254, "y": 282}, {"kind": "Density of states", "s": "HCOOD", "x": 254.4, "y": 249}, {"kind": "Density of states", "s": "HCOOD", "x": 264.6, "y": 248}, {"kind": "Density of states", "s": "HCOOD", "x": 265, "y": 252}, {"kind": "Density of states", "s": "HCOOD", "x": 265.4, "y": 248}, {"kind": "Density of states", "s": "HCOOD", "x": 661.6, "y": 248}, {"kind": "Density of states", "s": "HCOOD", "x": 662, "y": 250}, {"kind": "Density of states", "s": "HCOOD", "x": 662.4, "y": 248}, {"kind": "Density of states", "s": "HCOOD", "x": 1098.6, "y": 248}, {"kind": "Density of states", "s": "HCOOD", "x": 1099, "y": 422}, {"kind": "Density of states", "s": "HCOOD", "x": 1099.4, "y": 248}, {"kind": "Density of states", "s": "HCOOD", "x": 1294.6, "y": 248}, {"kind": "Density of states", "s": "HCOOD", "x": 1295, "y": 274}, {"kind": "Density of states", "s": "HCOOD", "x": 1295.4, "y": 248}, {"kind": "Density of states", "s": "HCOOD", "x": 1394.6, "y": 248}, {"kind": "Density of states", "s": "HCOOD", "x": 1395, "y": 314}, {"kind": "Density of states", "s": "HCOOD", "x": 1395.4, "y": 248}, {"kind": "Density of states", "s": "HCOOD", "x": 1407.6, "y": 248}, {"kind": "Density of states", "s": "HCOOD", "x": 1408, "y": 382}, {"kind": "Density of states", "s": "HCOOD", "x": 1408.4, "y": 248}, {"kind": "Density of states", "s": "HCOOD", "x": 1500, "y": 248},

      {"kind": "Density of states", "s": "DCOOH", "x": 0, "y": 35}, {"kind": "Density of states", "s": "DCOOH", "x": 15.6, "y": 35}, {"kind": "Density of states", "s": "DCOOH", "x": 16, "y": 39}, {"kind": "Density of states", "s": "DCOOH", "x": 16.4, "y": 35}, {"kind": "Density of states", "s": "DCOOH", "x": 65.6, "y": 35}, {"kind": "Density of states", "s": "DCOOH", "x": 66, "y": 37}, {"kind": "Density of states", "s": "DCOOH", "x": 66.4, "y": 35}, {"kind": "Density of states", "s": "DCOOH", "x": 182.6, "y": 35}, {"kind": "Density of states", "s": "DCOOH", "x": 183, "y": 40}, {"kind": "Density of states", "s": "DCOOH", "x": 183.4, "y": 35}, {"kind": "Density of states", "s": "DCOOH", "x": 227.6, "y": 35}, {"kind": "Density of states", "s": "DCOOH", "x": 228, "y": 41}, {"kind": "Density of states", "s": "DCOOH", "x": 228.4, "y": 35}, {"kind": "Density of states", "s": "DCOOH", "x": 267.6, "y": 35}, {"kind": "Density of states", "s": "DCOOH", "x": 268, "y": 41}, {"kind": "Density of states", "s": "DCOOH", "x": 268.4, "y": 35}, {"kind": "Density of states", "s": "DCOOH", "x": 693.6, "y": 35}, {"kind": "Density of states", "s": "DCOOH", "x": 694, "y": 43}, {"kind": "Density of states", "s": "DCOOH", "x": 694.4, "y": 35}, {"kind": "Density of states", "s": "DCOOH", "x": 704.6, "y": 35}, {"kind": "Density of states", "s": "DCOOH", "x": 705, "y": 53}, {"kind": "Density of states", "s": "DCOOH", "x": 705.4, "y": 35}, {"kind": "Density of states", "s": "DCOOH", "x": 910.6, "y": 35}, {"kind": "Density of states", "s": "DCOOH", "x": 911, "y": 40}, {"kind": "Density of states", "s": "DCOOH", "x": 911.4, "y": 35}, {"kind": "Density of states", "s": "DCOOH", "x": 1016.6, "y": 35}, {"kind": "Density of states", "s": "DCOOH", "x": 1017, "y": 149}, {"kind": "Density of states", "s": "DCOOH", "x": 1017.4, "y": 35}, {"kind": "Density of states", "s": "DCOOH", "x": 1024.6, "y": 35}, {"kind": "Density of states", "s": "DCOOH", "x": 1025, "y": 120}, {"kind": "Density of states", "s": "DCOOH", "x": 1025.4, "y": 35}, {"kind": "Density of states", "s": "DCOOH", "x": 1261.6, "y": 35}, {"kind": "Density of states", "s": "DCOOH", "x": 1262, "y": 41}, {"kind": "Density of states", "s": "DCOOH", "x": 1262.4, "y": 35}, {"kind": "Density of states", "s": "DCOOH", "x": 1447.6, "y": 35}, {"kind": "Density of states", "s": "DCOOH", "x": 1448, "y": 105}, {"kind": "Density of states", "s": "DCOOH", "x": 1448.4, "y": 35}, {"kind": "Density of states", "s": "DCOOH", "x": 1475.6, "y": 35}, {"kind": "Density of states", "s": "DCOOH", "x": 1476, "y": 72}, {"kind": "Density of states", "s": "DCOOH", "x": 1476.4, "y": 35}, {"kind": "Density of states", "s": "DCOOH", "x": 1500, "y": 35}
    ],
    "labels": [
      {"label": "HCOOH", "x": 1481, "y": 591},
      {"label": "HCOOD", "x": 1481, "y": 384},
      {"label": "DCOOH", "x": 1481, "y": 168}
    ]
  },
  "encoding": {
    "x": {"field": "x", "type": "quantitative", "scale": {"domain": [0, 1500], "nice": false, "zero": false}, "axis": {"values": [0, 100, 200, 300, 400, 500, 600, 700, 800, 900, 1000, 1100, 1200, 1300, 1400, 1500], "format": "d", "labelExpr": "datum.value % 500 === 0 ? datum.label : ''", "tickSize": {"condition": {"test": "datum.value % 500 === 0", "value": 8}, "value": 5}, "tickColor": "#000000", "tickWidth": 1.5, "domainColor": "#000000", "domainWidth": 1.5, "labelFontSize": 20, "labelPadding": 10, "labelFlush": false, "labelOverlap": false, "labelBound": false, "grid": false, "title": "Frequency / cm⁻¹", "titleFontSize": 22, "titlePadding": 20}},
    "y": {"field": "y", "type": "quantitative", "scale": {"domain": [0, 693], "nice": false}, "axis": {"labels": false, "ticks": false, "grid": false, "domain": false, "title": "Intensity", "titleFontSize": 21, "titlePadding": 20}}
  },
  "layer": [
    {
      "data": {"name": "spec"},
      "transform": [{"filter": "datum.kind === 'Experiment'"}],
      "mark": {"type": "line", "strokeCap": "round", "strokeJoin": "round", "clip": true},
      "encoding": {
        "detail": {"field": "s"},
        "color": {"field": "kind", "type": "nominal", "scale": {"domain": ["Experiment", "Theory", "Density of states"], "range": ["#ff94c8", "#0a64f0", "#222222"]}, "legend": {"title": null, "orient": "none", "legendX": 21.6, "legendY": 0.2, "symbolType": "M-1.53,0H1.53", "symbolSize": 625, "labelFontSize": 18.5, "labelFont": "Liberation Sans", "labelColor": "#000000", "labelOffset": 10, "rowPadding": 0, "padding": 0}},
        "strokeWidth": {"field": "kind", "type": "nominal", "scale": {"domain": ["Experiment", "Theory", "Density of states"], "range": [5.5, 3.2, 1.4]}, "legend": {"title": null, "orient": "none", "legendX": 21.6, "legendY": 0.2, "symbolType": "M-1.53,0H1.53", "symbolSize": 625, "labelFontSize": 18.5, "labelFont": "Liberation Sans", "labelColor": "#000000", "labelOffset": 10, "rowPadding": 0, "padding": 0}}
      }
    },
    {
      "data": {"name": "spec"},
      "transform": [{"filter": "datum.kind === 'Theory'"}],
      "mark": {"type": "line", "interpolate": "monotone", "strokeCap": "round", "clip": true},
      "encoding": {
        "detail": {"field": "s"},
        "color": {"field": "kind", "type": "nominal"},
        "strokeWidth": {"field": "kind", "type": "nominal"}
      }
    },
    {
      "data": {"name": "spec"},
      "transform": [{"filter": "datum.kind === 'Density of states'"}],
      "mark": {"type": "line", "clip": true},
      "encoding": {
        "detail": {"field": "s"},
        "color": {"field": "kind", "type": "nominal"},
        "strokeWidth": {"field": "kind", "type": "nominal"}
      }
    },
    {
      "data": {"name": "labels"},
      "mark": {"type": "text", "align": "right", "baseline": "middle", "fontSize": 20, "font": "Liberation Sans", "color": "#858585"},
      "encoding": {
        "text": {"field": "label"}
      }
    }
  ]
}
